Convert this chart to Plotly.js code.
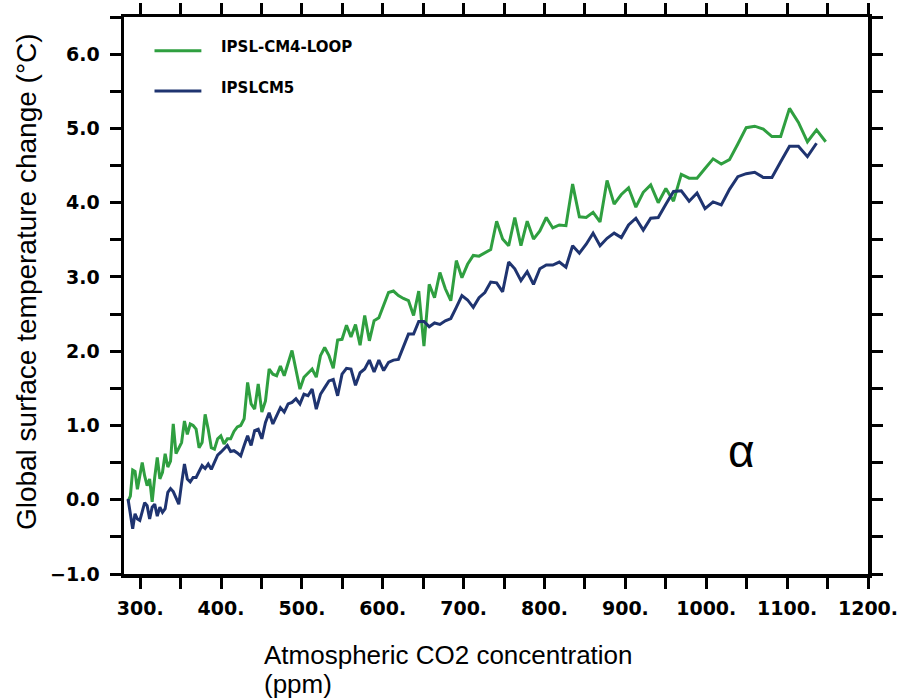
<!DOCTYPE html>
<html>
<head>
<meta charset="utf-8">
<script src="https://cdn.plot.ly/plotly-3.0.1.min.js"></script>
<style>html,body{margin:0;padding:0;background:#fff;}#chart{width:899px;height:699px;}</style>
</head>
<body>
<div id="chart"></div>
<script>
const co2ppm = [285.00,287.85,290.73,293.64,296.57,299.54,302.53,305.56,308.61,311.70,
314.82,317.96,321.14,324.36,327.60,330.88,334.19,337.53,340.90,344.31,
347.76,351.23,354.75,358.29,361.88,365.49,369.15,372.84,376.57,380.33,
384.14,387.98,391.86,395.78,399.73,403.73,407.77,411.85,415.97,420.12,
424.33,428.57,432.85,437.18,441.56,445.97,450.43,454.94,459.49,464.08,
468.72,473.41,478.14,482.93,487.75,492.63,497.56,502.53,507.56,512.63,
517.76,522.94,528.17,533.45,538.78,544.17,549.61,555.11,560.66,566.26,
571.93,577.65,583.42,589.26,595.15,601.10,607.11,613.18,619.32,625.51,
631.76,638.08,644.46,650.91,657.42,663.99,670.63,677.34,684.11,690.95,
697.86,704.84,711.89,719.01,726.20,733.46,740.79,748.20,755.68,763.24,
770.87,778.58,786.37,794.23,802.17,810.19,818.30,826.48,834.74,843.09,
851.52,860.04,868.64,877.32,886.10,894.96,903.91,912.95,922.08,931.30,
940.61,950.02,959.52,969.11,978.80,988.59,998.48,1008.46,1018.55,1028.73,
1039.02,1049.41,1059.90,1070.50,1081.21,1092.02,1102.94,1113.97,1125.11,1136.36,
1147.72];

const tempLoop = [-0.02,0.05,0.40,0.38,0.14,0.35,0.50,0.32,0.19,0.28,
-0.03,0.30,0.57,0.28,0.37,0.62,0.44,0.52,1.02,0.62,
0.70,0.77,1.06,0.88,1.02,1.00,0.95,0.70,0.77,1.15,
0.95,0.70,0.68,0.82,0.86,0.75,0.82,0.82,0.92,0.98,
1.00,1.09,1.58,1.29,1.22,1.56,1.18,1.33,1.76,1.69,
1.67,1.80,1.67,1.85,2.01,1.75,1.49,1.65,1.71,1.76,
1.65,1.94,2.05,1.94,1.77,2.15,2.16,2.35,2.19,2.36,
2.08,2.48,2.14,2.41,2.45,2.62,2.79,2.81,2.75,2.71,
2.68,2.48,2.81,2.07,2.90,2.72,3.06,2.84,2.68,3.22,
2.99,3.17,3.29,3.28,3.33,3.37,3.75,3.51,3.42,3.80,
3.42,3.75,3.51,3.62,3.80,3.66,3.70,3.69,4.25,3.81,
3.80,3.87,3.74,4.30,3.98,4.11,4.20,3.94,4.14,4.24,
4.00,4.19,4.02,4.38,4.33,4.33,4.46,4.59,4.52,4.58,
4.79,5.01,5.03,4.99,4.89,4.89,5.27,5.08,4.82,4.98,
4.82];

const tempCM5 = [0.01,-0.17,-0.39,-0.19,-0.26,-0.28,-0.15,-0.04,-0.08,-0.26,
-0.10,-0.06,-0.22,-0.10,-0.17,-0.12,0.10,0.15,0.11,0.02,
-0.06,0.22,0.48,0.28,0.24,0.30,0.30,0.38,0.46,0.42,
0.48,0.41,0.50,0.60,0.64,0.68,0.73,0.65,0.66,0.63,
0.59,0.73,0.86,0.73,0.93,0.95,0.82,1.04,1.17,1.02,
1.13,1.24,1.18,1.29,1.31,1.36,1.29,1.42,1.40,1.49,
1.22,1.42,1.51,1.60,1.62,1.40,1.69,1.77,1.76,1.54,
1.71,1.76,1.88,1.72,1.88,1.74,1.85,1.88,1.89,2.07,
2.23,2.23,2.40,2.40,2.33,2.38,2.36,2.41,2.44,2.59,
2.75,2.69,2.59,2.72,2.79,2.93,2.92,2.80,3.20,3.11,
2.95,3.07,2.90,3.11,3.16,3.16,3.20,3.13,3.42,3.32,
3.44,3.59,3.42,3.52,3.59,3.53,3.70,3.79,3.63,3.79,
3.80,3.98,4.15,4.16,4.02,4.13,3.92,4.01,3.97,4.18,
4.35,4.39,4.41,4.34,4.34,4.55,4.76,4.76,4.62,4.80];

const seriesNames = ['IPSL-CM4-LOOP', 'IPSLCM5'];
const seriesColors = ['#2f9f40', '#1f3470'];

const xTickVals = [300,350,400,450,500,550,600,650,700,750,800,850,900,950,1000,1050,1100,1150,1200];
const xTickText = ['300.','','400.','','500.','','600.','','700.','','800.','','900.','','1000.','','1100.','','1200.'];
const yTickVals = [-1,-0.5,0,0.5,1,1.5,2,2.5,3,3.5,4,4.5,5,5.5,6,6.5];
const yTickText = ['\u22121.0','','0.0','','1.0','','2.0','','3.0','','4.0','','5.0','','6.0',''];

const xTitleLines = ['Atmospheric CO2 concentration', '(ppm)'];
const yTitle = 'Global surface temperature change (°C)';

const traces = [
  {x: co2ppm, y: tempLoop, type: 'scatter', mode: 'lines', name: seriesNames[0],
   line: {color: seriesColors[0], width: 3}, showlegend: false},
  {x: co2ppm.slice(0, tempCM5.length), y: tempCM5, type: 'scatter', mode: 'lines', name: seriesNames[1],
   line: {color: seriesColors[1], width: 3}, showlegend: false}
];

const tickFont = {family: 'DejaVu Sans', size: 19, weight: 'bold', color: '#000'};
const axisCommon = {
  showgrid: false, zeroline: false, showline: true, linecolor: '#000', linewidth: 3.5,
  mirror: 'ticks', ticks: 'outside', ticklen: 11, tickwidth: 3, tickcolor: '#000',
  tickmode: 'array', tickfont: tickFont, fixedrange: true
};

const titleFont = {family: 'Liberation Sans', size: 26, color: '#000'};

const layout = {
  width: 899, height: 699,
  margin: {l: 124, r: 31, t: 17, b: 125},
  paper_bgcolor: '#fff', plot_bgcolor: '#fff',
  showlegend: false,
  xaxis: Object.assign({}, axisCommon, {range: [280, 1200], tickvals: xTickVals, ticktext: xTickText, ticklabelstandoff: 4}),
  yaxis: Object.assign({}, axisCommon, {range: [-1, 6.5], tickvals: yTickVals, ticktext: yTickText, ticklabelstandoff: 6}),
  shapes: [
    {type: 'line', xref: 'paper', yref: 'paper', x0: 0.041, x1: 0.104, y0: 0.9395, y1: 0.9395,
     line: {color: seriesColors[0], width: 3}},
    {type: 'line', xref: 'paper', yref: 'paper', x0: 0.041, x1: 0.104, y0: 0.867, y1: 0.867,
     line: {color: seriesColors[1], width: 3}}
  ],
  annotations: [
    {xref: 'paper', yref: 'paper', x: 0.128, y: 0.946, xanchor: 'left', yanchor: 'middle', showarrow: false,
     text: seriesNames[0], font: {family: 'DejaVu Sans', size: 15, weight: 'bold', color: '#000'}},
    {xref: 'paper', yref: 'paper', x: 0.128, y: 0.873, xanchor: 'left', yanchor: 'middle', showarrow: false,
     text: seriesNames[1], font: {family: 'DejaVu Sans', size: 15, weight: 'bold', color: '#000'}},
    {xref: 'paper', yref: 'paper', x: 0.186, y: -0.1454, xanchor: 'left', yanchor: 'middle', align: 'left', showarrow: false,
     text: xTitleLines[0], font: titleFont},
    {xref: 'paper', yref: 'paper', x: 0.186, y: -0.1975, xanchor: 'left', yanchor: 'middle', align: 'left', showarrow: false,
     text: xTitleLines[1], font: titleFont},
    {xref: 'paper', yref: 'paper', x: -0.131, y: 0.525, xanchor: 'center', yanchor: 'middle', textangle: -90, showarrow: false,
     text: yTitle, font: {family: 'Liberation Sans', size: 28, color: '#000'}},
    {xref: 'x', yref: 'y', x: 1043, y: 0.65, xanchor: 'center', yanchor: 'middle', showarrow: false,
     text: 'α', font: {family: 'Liberation Sans', size: 46, color: '#000'}}
  ]
};

Plotly.newPlot('chart', traces, layout, {displayModeBar: false, staticPlot: true});
</script>
</body>
</html>
